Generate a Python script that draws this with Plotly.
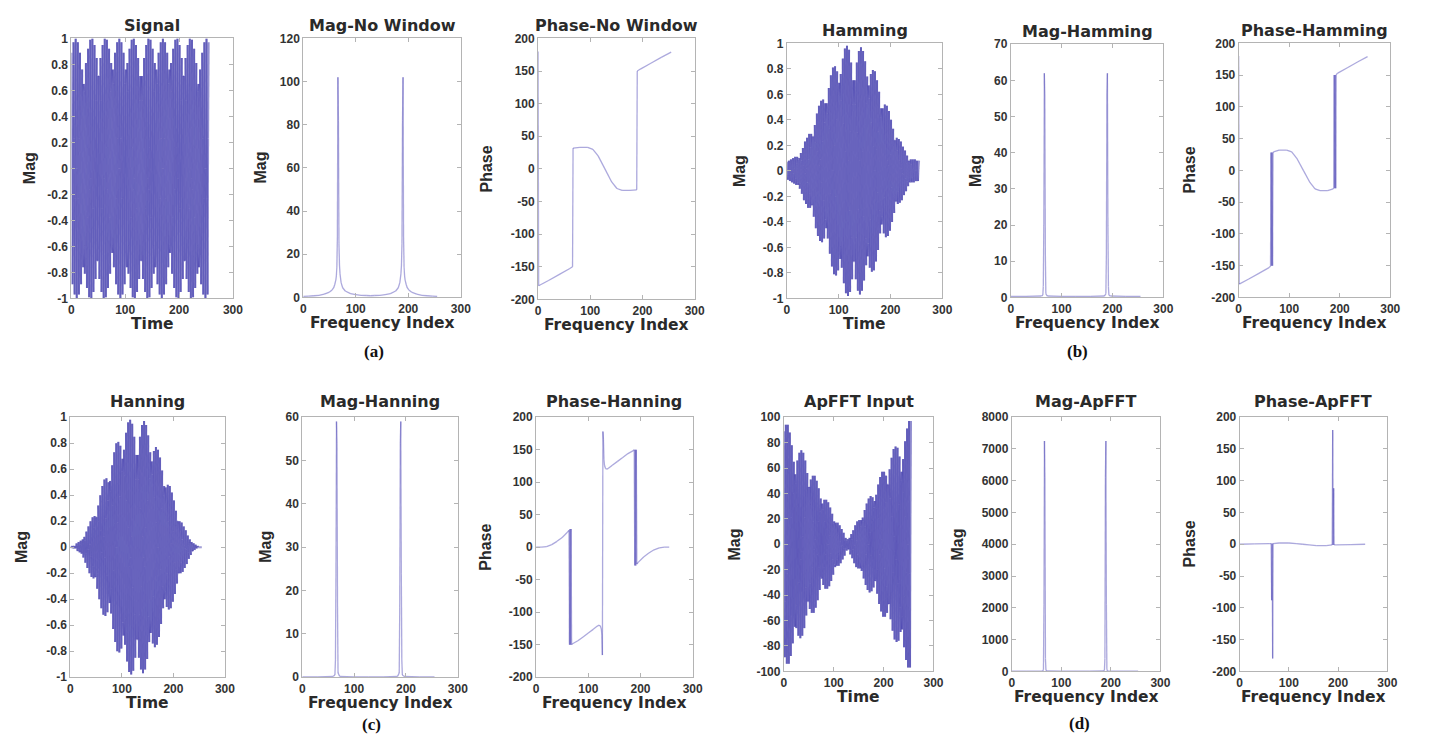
import plotly.graph_objects as go

W, H = 1431, 748

# ---------------- data ----------------
signal = [
 0.89, 0.45, -0.89, -0.45, 0.97, 0.23, -0.97, -0.23, 1.00, 0.00, -1.00, 0.00, 0.97, -0.23, -0.97, 0.23,
 0.89, -0.45, -0.89, 0.45, 0.76, -0.65, -0.76, 0.65, 0.59, -0.81, -0.59, 0.81, 0.38, -0.92, -0.38, 0.92,
 0.16, -0.99, -0.16, 0.99, -0.08, -1.00, 0.08, 1.00, -0.31, -0.95, 0.31, 0.95, -0.52, -0.85, 0.52, 0.85,
 -0.71, -0.71, 0.71, 0.71, -0.85, -0.52, 0.85, 0.52, -0.95, -0.31, 0.95, 0.31, -1.00, -0.08, 1.00, 0.08,
 -0.99, 0.16, 0.99, -0.16, -0.92, 0.38, 0.92, -0.38, -0.81, 0.59, 0.81, -0.59, -0.65, 0.76, 0.65, -0.76,
 -0.45, 0.89, 0.45, -0.89, -0.23, 0.97, 0.23, -0.97, 0.00, 1.00, 0.00, -1.00, 0.23, 0.97, -0.23, -0.97,
 0.45, 0.89, -0.45, -0.89, 0.65, 0.76, -0.65, -0.76, 0.81, 0.59, -0.81, -0.59, 0.92, 0.38, -0.92, -0.38,
 0.99, 0.16, -0.99, -0.16, 1.00, -0.08, -1.00, 0.08, 0.95, -0.31, -0.95, 0.31, 0.85, -0.52, -0.85, 0.52,
 0.71, -0.71, -0.71, 0.71, 0.52, -0.85, -0.52, 0.85, 0.31, -0.95, -0.31, 0.95, 0.08, -1.00, -0.08, 1.00,
 -0.16, -0.99, 0.16, 0.99, -0.38, -0.92, 0.38, 0.92, -0.59, -0.81, 0.59, 0.81, -0.76, -0.65, 0.76, 0.65,
 -0.89, -0.45, 0.89, 0.45, -0.97, -0.23, 0.97, 0.23, -1.00, 0.00, 1.00, 0.00, -0.97, 0.23, 0.97, -0.23,
 -0.89, 0.45, 0.89, -0.45, -0.76, 0.65, 0.76, -0.65, -0.59, 0.81, 0.59, -0.81, -0.38, 0.92, 0.38, -0.92,
 -0.16, 0.99, 0.16, -0.99, 0.08, 1.00, -0.08, -1.00, 0.31, 0.95, -0.31, -0.95, 0.52, 0.85, -0.52, -0.85,
 0.71, 0.71, -0.71, -0.71, 0.85, 0.52, -0.85, -0.52, 0.95, 0.31, -0.95, -0.31, 1.00, 0.08, -1.00, -0.08,
 0.99, -0.16, -0.99, 0.16, 0.92, -0.38, -0.92, 0.38, 0.81, -0.59, -0.81, 0.59, 0.65, -0.76, -0.65, 0.76,
 0.45, -0.89, -0.45, 0.89, 0.23, -0.97, -0.23, 0.97, 0.00, -1.00, 0.00, 1.00, -0.23, -0.97, 0.23, 0.97,
]

hamming_sig = [
 0.07, 0.04, -0.07, -0.04, 0.08, 0.02, -0.08, -0.02, 0.09, 0.00, -0.09, 0.00, 0.10, -0.02, -0.10, 0.02,
 0.11, -0.06, -0.11, 0.06, 0.11, -0.09, -0.11, 0.09, 0.10, -0.14, -0.10, 0.14, 0.08, -0.18, -0.08, 0.18,
 0.04, -0.23, -0.04, 0.23, -0.02, -0.26, 0.02, 0.26, -0.09, -0.29, 0.09, 0.29, -0.18, -0.29, 0.18, 0.29,
 -0.27, -0.27, 0.27, 0.27, -0.36, -0.22, 0.36, 0.22, -0.45, -0.15, 0.45, 0.15, -0.51, -0.04, 0.51, 0.04,
 -0.55, 0.09, 0.55, -0.09, -0.56, 0.23, 0.56, -0.23, -0.53, 0.38, 0.53, -0.38, -0.45, 0.53, 0.45, -0.53,
 -0.33, 0.65, 0.33, -0.65, -0.18, 0.75, 0.18, -0.75, 0.00, 0.81, 0.00, -0.81, 0.20, 0.82, -0.20, -0.82,
 0.40, 0.78, -0.40, -0.78, 0.59, 0.69, -0.59, -0.69, 0.76, 0.55, -0.76, -0.55, 0.88, 0.37, -0.88, -0.37,
 0.96, 0.15, -0.96, -0.15, 0.98, -0.08, -0.98, 0.08, 0.95, -0.31, -0.95, 0.31, 0.85, -0.52, -0.85, 0.52,
 0.71, -0.71, -0.71, 0.71, 0.52, -0.85, -0.52, 0.85, 0.30, -0.94, -0.30, 0.94, 0.08, -0.97, -0.08, 0.97,
 -0.15, -0.94, 0.15, 0.94, -0.36, -0.86, 0.36, 0.86, -0.53, -0.74, 0.53, 0.74, -0.67, -0.57, 0.67, 0.57,
 -0.76, -0.38, 0.76, 0.38, -0.79, -0.19, 0.79, 0.19, -0.78, 0.00, 0.78, 0.00, -0.71, 0.17, 0.71, -0.17,
 -0.62, 0.31, 0.62, -0.31, -0.49, 0.42, 0.49, -0.42, -0.36, 0.49, 0.36, -0.49, -0.21, 0.52, 0.21, -0.52,
 -0.08, 0.51, 0.08, -0.51, 0.04, 0.47, -0.04, -0.47, 0.13, 0.40, -0.13, -0.40, 0.20, 0.33, -0.20, -0.33,
 0.24, 0.24, -0.24, -0.24, 0.26, 0.16, -0.26, -0.16, 0.25, 0.08, -0.25, -0.08, 0.23, 0.02, -0.23, -0.02,
 0.19, -0.03, -0.19, 0.03, 0.16, -0.06, -0.16, 0.06, 0.12, -0.08, -0.12, 0.08, 0.08, -0.09, -0.08, 0.09,
 0.05, -0.09, -0.05, 0.09, 0.02, -0.09, -0.02, 0.09, 0.00, -0.08, 0.00, 0.08, -0.02, -0.08, 0.02, 0.08,
]

hanning_sig = [
 0.00, 0.00, 0.00, 0.00, 0.01, 0.00, -0.01, 0.00, 0.01, 0.00, -0.01, 0.00, 0.03, -0.01, -0.03, 0.01,
 0.04, -0.02, -0.04, 0.02, 0.05, -0.04, -0.05, 0.04, 0.06, -0.08, -0.06, 0.08, 0.05, -0.12, -0.05, 0.12,
 0.02, -0.16, -0.02, 0.16, -0.02, -0.20, 0.02, 0.20, -0.07, -0.23, 0.07, 0.23, -0.15, -0.24, 0.15, 0.24,
 -0.23, -0.23, 0.23, 0.23, -0.32, -0.20, 0.32, 0.20, -0.40, -0.13, 0.40, 0.13, -0.47, -0.04, 0.47, 0.04,
 -0.52, 0.08, 0.52, -0.08, -0.53, 0.22, 0.53, -0.22, -0.50, 0.36, 0.50, -0.36, -0.43, 0.51, 0.43, -0.51,
 -0.32, 0.63, 0.32, -0.63, -0.18, 0.73, 0.18, -0.73, 0.00, 0.80, 0.00, -0.80, 0.19, 0.81, -0.19, -0.81,
 0.39, 0.78, -0.39, -0.78, 0.58, 0.68, -0.58, -0.68, 0.75, 0.55, -0.75, -0.55, 0.88, 0.36, -0.88, -0.36,
 0.96, 0.15, -0.96, -0.15, 0.98, -0.08, -0.98, 0.08, 0.95, -0.31, -0.95, 0.31, 0.85, -0.52, -0.85, 0.52,
 0.71, -0.71, -0.71, 0.71, 0.52, -0.85, -0.52, 0.85, 0.30, -0.94, -0.30, 0.94, 0.08, -0.97, -0.08, 0.97,
 -0.15, -0.94, 0.15, 0.94, -0.36, -0.86, 0.36, 0.86, -0.53, -0.73, 0.53, 0.73, -0.66, -0.56, 0.66, 0.56,
 -0.74, -0.38, 0.74, 0.38, -0.77, -0.19, 0.77, 0.19, -0.75, 0.00, 0.75, 0.00, -0.69, 0.17, 0.69, -0.17,
 -0.59, 0.30, 0.59, -0.30, -0.47, 0.40, 0.47, -0.40, -0.34, 0.46, 0.34, -0.46, -0.20, 0.48, 0.20, -0.48,
 -0.07, 0.47, 0.07, -0.47, 0.03, 0.42, -0.03, -0.42, 0.12, 0.36, -0.12, -0.36, 0.17, 0.28, -0.17, -0.28,
 0.20, 0.20, -0.20, -0.20, 0.20, 0.12, -0.20, -0.12, 0.19, 0.06, -0.19, -0.06, 0.16, 0.01, -0.16, -0.01,
 0.13, -0.02, -0.13, 0.02, 0.09, -0.04, -0.09, 0.04, 0.06, -0.04, -0.06, 0.04, 0.03, -0.03, -0.03, 0.03,
 0.01, -0.02, -0.01, 0.02, 0.00, -0.01, 0.00, 0.01, 0.00, 0.00, 0.00, 0.00, 0.00, 0.00, 0.00, 0.00,
]

apfft_sig = [
 89, 45, -89, -45, 94, 23, -94, -23, 94, 0, -94, 0, 88, -21, -88, 21,
 78, -40, -78, 40, 65, -55, -65, 55, 48, -66, -48, 66, 30, -72, -30, 72,
 12, -74, -12, 74, -6, -72, 6, 72, -21, -66, 21, 66, -34, -56, 34, 56,
 -45, -45, 45, 45, -51, -31, 51, 31, -54, -18, 54, 18, -54, -4, 54, 4,
 -50, 8, 50, -8, -44, 18, 44, -18, -36, 26, 36, -26, -27, 32, 27, -32,
 -18, 35, 18, -35, -8, 35, 8, -35, 0, 33, 0, -33, 7, 29, -7, -29,
 12, 24, -12, -24, 16, 18, -16, -18, 17, 12, -17, -12, 17, 7, -17, -7,
 15, 2, -15, -2, 12, -1, -12, 1, 9, -3, -9, 3, 5, -3, -5, 3,
 4, -4, -4, 4, 5, -8, -5, 8, 4, -11, -4, 11, 1, -15, -1, 15,
 -3, -18, 3, 18, -8, -19, 8, 19, -14, -19, 14, 19, -21, -18, 21, 18,
 -27, -14, 27, 14, -32, -8, 32, 8, -36, 0, 36, 0, -38, 9, 38, -9,
 -37, 19, 37, -19, -34, 29, 34, -29, -28, 39, 28, -39, -20, 47, 20, -47,
 -8, 53, 8, -53, 4, 57, -4, -57, 19, 57, -19, -57, 33, 54, -33, -54,
 47, 47, -47, -47, 59, 36, -59, -36, 68, 22, -68, -22, 75, 6, -75, -6,
 77, -12, -77, 12, 76, -31, -76, 31, 69, -50, -69, 50, 57, -67, -57, 67,
 41, -81, -41, 81, 22, -91, -22, 91, 0, -97, 0, 97, -23, -97, 23, 97,
]

# magnitude spectra (frequency index, value)
mag_nowin_idx = [0, 10, 20, 30, 40, 50, 55, 58, 60, 62, 63, 64, 65, 66, 67, 68, 69, 70, 72, 75, 80, 90,
                 100, 110, 120, 128, 136, 146, 156, 166, 176, 181, 184, 186, 187, 188, 189, 190, 191, 192,
                 193, 194, 196, 198, 201, 206, 216, 226, 236, 246, 255]
mag_nowin_val = [0.5, 0.6, 0.8, 1.0, 1.5, 2.5, 3.5, 4.5, 6, 8, 10, 14, 28, 102, 82, 25, 15, 11, 7, 4.5, 3, 1.8,
                 1.3, 1.0, 0.9, 0.8, 0.9, 1.0, 1.3, 1.8, 3, 4.5, 7, 11, 15, 25, 82, 102, 28, 14,
                 10, 8, 6, 4.5, 3.5, 2.5, 1.5, 1.0, 0.8, 0.6, 0.5]

mag_win_idx = [0, 30, 60, 63, 64, 65, 66, 67, 68, 69, 72, 100, 128, 156, 184, 187, 188, 189, 190, 191, 192,
               193, 196, 226, 255]
mag_hamming_val = [0.3, 0.3, 0.4, 0.6, 3, 20, 62, 56, 12, 1, 0.4, 0.3, 0.3, 0.3, 0.4, 1, 12, 56, 62, 20, 3,
                   0.6, 0.4, 0.3, 0.3]
mag_hanning_val = [0.1, 0.1, 0.2, 0.5, 4, 24, 59, 54, 16, 1, 0.2, 0.1, 0.1, 0.1, 0.2, 1, 16, 54, 59, 24, 4,
                   0.5, 0.2, 0.1, 0.1]
mag_apfft_val = [5, 5, 8, 15, 60, 2100, 7250, 6100, 400, 30, 10, 5, 5, 5, 10, 30, 400, 6100, 7250, 2100, 60,
                 15, 8, 5, 5]

# phase spectra (frequency index, degrees)
ph_nowin_idx = [0, 1, 20, 40, 60, 66, 67, 80, 95, 105, 115, 128, 141, 151, 161, 176, 189, 190, 196, 216, 236, 255]
ph_nowin_val = [180, -179, -171, -162, -153, -150, 32, 33, 33, 30, 20, 0, -20, -30, -33, -33, -32, 150, 153,
                162, 171, 179]

ph_hamming_idx = [0, 1, 20, 40, 60, 63, 64, 65, 66, 67, 68, 69, 80, 95, 105, 115, 128, 141, 151, 161, 176,
                  187, 188, 189, 190, 191, 192, 193, 196, 216, 236, 255]
ph_hamming_val = [180, -179, -171, -162, -153, -151, 28, -150, 28, -150, 28, 29, 32, 32, 29, 19, 0, -19, -29,
                  -32, -32, -29, -28, 150, -28, 150, -28, 151, 153, 162, 171, 179]

ph_hanning_idx = [0, 10, 20, 30, 40, 50, 60, 63, 64, 65, 66, 67, 68, 69, 80, 90, 100, 110, 118, 121, 123, 125,
                  126, 127, 128, 129, 130, 131, 133, 135, 138, 146, 156, 166, 176, 187, 188, 189, 190, 191,
                  192, 193, 196, 206, 216, 226, 236, 246, 255]
ph_hanning_val = [0, 0, 1, 4, 9, 15, 23, 26, -150, 28, -150, 28, -150, -149, -144, -138, -132, -126, -121,
                  -120, -121, -126, -135, -166, 178, 166, 135, 126, 121, 120, 121, 126, 132, 138, 144, 149,
                  150, -28, 150, -28, 150, -26, -23, -15, -9, -4, -1, 0, 0]

ph_apfft_idx = [0, 30, 60, 64, 65, 66, 67, 68, 80, 100, 115, 128, 141, 156, 176, 188, 189, 190, 191, 192, 196,
                226, 255]
ph_apfft_val = [0, 0.5, 1, 1, -88, 1, -180, 1, 2, 2, 1, 0, -1, -2, -2, -1, 180, -1, 88, -1, -1, -0.5, 0]

# tick values / labels
x_ticks = [0, 100, 200, 300]
x_labels = ["0", "100", "200", "300"]
unit_ticks = [-1, -0.8, -0.6, -0.4, -0.2, 0, 0.2, 0.4, 0.6, 0.8, 1]
unit_labels = ["-1", "-0.8", "-0.6", "-0.4", "-0.2", "0", "0.2", "0.4", "0.6", "0.8", "1"]
phase_ticks = [-200, -150, -100, -50, 0, 50, 100, 150, 200]
phase_labels = ["-200", "-150", "-100", "-50", "0", "50", "100", "150", "200"]
mag120_ticks = [0, 20, 40, 60, 80, 100, 120]
mag70_ticks = [0, 10, 20, 30, 40, 50, 60, 70]
mag60_ticks = [0, 10, 20, 30, 40, 50, 60]
ap_ticks = [-100, -80, -60, -40, -20, 0, 20, 40, 60, 80, 100]
mag8000_ticks = [0, 1000, 2000, 3000, 4000, 5000, 6000, 7000, 8000]

# ---------------- layout helpers ----------------
TIME_COLOR = "rgba(58,52,170,0.55)"
LINE_COLOR = "rgba(70,64,180,0.45)"
FRAME = "#b4b4b4"
TXT = "#2a2a2a"

samples = list(range(len(signal)))

panels = [
    dict(t="Signal", xt="Time", yt="Mag", box=(69, 232, 32, 297), yr=[-1, 1], yv=unit_ticks, yl=unit_labels,
         x=samples, y=signal, time=True, yoff=42),
    dict(t="Mag-No Window", xt="Frequency Index", yt="Mag", box=(303, 462, 32, 296), yr=[0, 120],
         yv=mag120_ticks, yl=[str(v) for v in mag120_ticks], x=mag_nowin_idx, y=mag_nowin_val, time=False, yoff=43),
    dict(t="Phase-No Window", xt="Frequency Index", yt="Phase", box=(540, 698, 32, 298), yr=[-200, 200],
         yv=phase_ticks, yl=phase_labels, x=ph_nowin_idx, y=ph_nowin_val, time=False, yoff=52),
    dict(t="Hamming", xt="Time", yt="Mag", box=(791, 948, 37, 297), yr=[-1, 1], yv=unit_ticks, yl=unit_labels,
         x=samples, y=hamming_sig, time=True, yoff=47),
    dict(t="Mag-Hamming", xt="Frequency Index", yt="Mag", box=(1017, 1171, 38, 296), yr=[0, 70],
         yv=mag70_ticks, yl=[str(v) for v in mag70_ticks], x=mag_win_idx, y=mag_hamming_val, time=False, yoff=35),
    dict(t="Phase-Hamming", xt="Frequency Index", yt="Phase", box=(1247, 1400, 37, 296), yr=[-200, 200],
         yv=phase_ticks, yl=phase_labels, x=ph_hamming_idx, y=ph_hamming_val, time=False, yoff=50),
    dict(t="Hanning", xt="Time", yt="Mag", box=(68, 224, 418, 683), yr=[-1, 1], yv=unit_ticks, yl=unit_labels,
         x=samples, y=hanning_sig, time=True, yoff=50),
    dict(t="Mag-Hanning", xt="Frequency Index", yt="Mag", box=(302, 459, 418, 683), yr=[0, 60],
         yv=mag60_ticks, yl=[str(v) for v in mag60_ticks], x=mag_win_idx, y=mag_hanning_val, time=False, yoff=37),
    dict(t="Phase-Hanning", xt="Frequency Index", yt="Phase", box=(538, 696, 418, 683), yr=[-200, 200],
         yv=phase_ticks, yl=phase_labels, x=ph_hanning_idx, y=ph_hanning_val, time=False, yoff=51),
    dict(t="ApFFT Input", xt="Time", yt="Mag", box=(788, 939, 418, 677), yr=[-100, 100], yv=ap_ticks,
         yl=[str(v) for v in ap_ticks], x=samples, y=apfft_sig, time=True, yoff=50),
    dict(t="Mag-ApFFT", xt="Frequency Index", yt="Mag", box=(1018, 1168, 418, 677), yr=[0, 8000],
         yv=mag8000_ticks, yl=[str(v) for v in mag8000_ticks], x=mag_win_idx, y=mag_apfft_val, time=False, yoff=55),
    dict(t="Phase-ApFFT", xt="Frequency Index", yt="Phase", box=(1248, 1397, 418, 677), yr=[-200, 200],
         yv=phase_ticks, yl=phase_labels, x=ph_apfft_idx, y=ph_apfft_val, time=False, yoff=51),
]

sub_labels = [("(a)", 374, 351), ("(b)", 1084, 351), ("(c)", 372, 731), ("(d)", 1086, 730)]


def px(v):
    return v / W


def py(v):
    return 1 - v / H


fig = go.Figure()
annotations = []
layout_axes = {}

for i, p in enumerate(panels, start=1):
    l, r, t, b = p["box"]
    xa = "x" if i == 1 else f"x{i}"
    ya = "y" if i == 1 else f"y{i}"
    color = TIME_COLOR if p["time"] else LINE_COLOR
    width = 2.0 if p["time"] else 1.3
    xs, ys = p["x"], p["y"]
    # split the line into interleaved segment groups so overlapping strokes darken
    groups = 4
    for g in range(groups):
        sx, sy = [], []
        for k in range(g, len(xs) - 1, groups):
            sx += [xs[k], xs[k + 1], None]
            sy += [ys[k], ys[k + 1], None]
        fig.add_trace(go.Scatter(x=sx, y=sy, mode="lines", xaxis=xa, yaxis=ya,
                                 line=dict(color=color, width=width),
                                 hoverinfo="skip", showlegend=False))

    axis_common = dict(showline=True, linecolor=FRAME, linewidth=1, mirror="ticks", ticks="inside",
                       ticklen=4, tickcolor=FRAME, showgrid=False, zeroline=False,
                       tickfont=dict(family="Liberation Sans, Arial", size=12, color="#333", weight="bold"))
    xkey = "xaxis" if i == 1 else f"xaxis{i}"
    ykey = "yaxis" if i == 1 else f"yaxis{i}"
    layout_axes[xkey] = dict(axis_common, domain=[px(l), px(r)], range=[0, 300], tickvals=x_ticks,
                             ticktext=x_labels, anchor=ya)
    layout_axes[ykey] = dict(axis_common, domain=[py(b), py(t)], range=p["yr"], tickvals=p["yv"],
                             ticktext=p["yl"], anchor=xa)

    cx = (l + r) / 2
    title_gap = 13 if t < 200 else 16
    annotations.append(dict(text=p["t"], x=px(cx), y=py(t - title_gap), xref="paper", yref="paper",
                            xanchor="center", yanchor="middle", showarrow=False,
                            font=dict(family="DejaVu Sans", size=16, color=TXT, weight="bold")))
    annotations.append(dict(text=p["xt"], x=px(cx), y=py(b + 26), xref="paper", yref="paper",
                            xanchor="center", yanchor="middle", showarrow=False,
                            font=dict(family="DejaVu Sans", size=15.5, color=TXT, weight="bold")))
    annotations.append(dict(text=p["yt"], x=px(l - p["yoff"]), y=py((t + b) / 2), xref="paper",
                            yref="paper", xanchor="center", yanchor="middle", showarrow=False,
                            textangle=-90,
                            font=dict(family="Liberation Sans, Arial", size=16, color=TXT, weight="bold")))

for txt, x, y in sub_labels:
    annotations.append(dict(text=txt, x=px(x), y=py(y), xref="paper", yref="paper", xanchor="center",
                            yanchor="middle", showarrow=False,
                            font=dict(family="Liberation Serif, Times New Roman", size=17, color="#111",
                                      weight="bold")))

fig.update_layout(width=W, height=H, margin=dict(l=0, r=0, t=0, b=0), paper_bgcolor="white",
                  plot_bgcolor="white", showlegend=False, annotations=annotations, **layout_axes)

# remove the default page margin so the 1431x748 figure fills the window exactly
page_fix = ("document.documentElement.style.overflow='hidden';"
            "document.body.style.margin='0';document.body.style.overflow='hidden';")

fig.write_html("out.html", post_script=page_fix, config={"displayModeBar": False})
